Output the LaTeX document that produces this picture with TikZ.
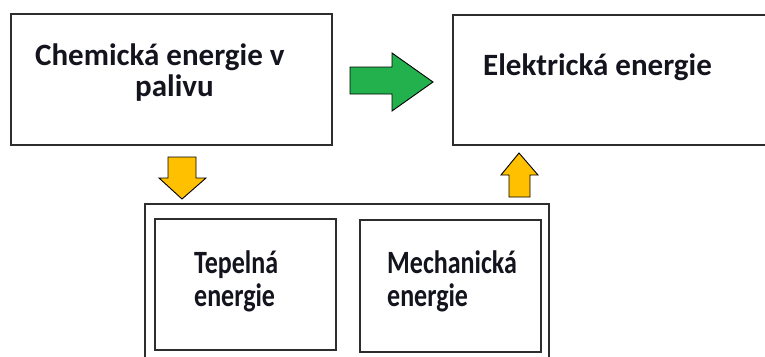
\documentclass[tikz,border=0pt]{standalone}
\usepackage{fontspec}
\setmainfont{Carlito}
\definecolor{boxline}{RGB}{45,45,45}
\definecolor{textcol}{RGB}{20,20,30}
\definecolor{arrgreen}{RGB}{34,177,76}
\definecolor{arryellow}{RGB}{255,192,0}
\tikzset{
  frame/.style={draw=boxline, line width=2pt, fill=none},
  lbl/.style={anchor=base west, inner sep=0pt, font=\bfseries\fontsize{31}{31}\selectfont, text=textcol},
  lblsmall/.style={anchor=base west, inner sep=0pt, font=\bfseries\fontsize{26}{26}\selectfont, text=textcol},
  blockarrow/.style={draw=black, line width=0.9pt, line join=miter}
}
\newcommand{\tallbox}[1]{\scalebox{1}[1.25]{#1}}
\begin{document}
\begin{tikzpicture}[x=1pt,y=-1pt]
\useasboundingbox (0,0) rectangle (765,356);
\fill[white] (0,0) rectangle (765,356);
% top left box
\node[frame, anchor=north west, minimum width=321pt, minimum height=131pt, inner sep=0pt] (chem) at (10,13) {};
\node[lbl] (chemt1) at (35,65) {Chemická energie v};
\node[lbl] (chemt2) at (135,96) {palivu};
% top right box (open at right edge)
\draw[frame] (780,15) -- (453,15) coordinate (elTL) -- (453,145) coordinate (elBL) -- (780,145);
\node[lbl] (elt) at (483,75) {Elektrická energie};
% green arrow
\filldraw[blockarrow, fill=arrgreen] (350,67) -- (392,67) -- (392,53) -- (433,82) -- (392,111) -- (392,94) -- (350,94) -- cycle;
% yellow down arrow
\filldraw[blockarrow, fill=arryellow] (168,157) -- (196,157) -- (196,178) -- (206,178) -- (182,199) -- (159,178) -- (168,178) -- cycle;
% yellow up arrow
\filldraw[blockarrow, fill=arryellow] (509,197) -- (530,197) -- (530,175) -- (538,175) -- (519,153) -- (501,175) -- (509,175) -- cycle;
% outer bottom box (open at bottom edge)
\draw[frame] (145,370) -- (145,204) -- (549,204) -- (549,370);
% inner boxes
\node[frame, anchor=north west, minimum width=181pt, minimum height=131pt, inner sep=0pt] (tep) at (154,218) {};
\node[frame, anchor=north west, minimum width=181pt, minimum height=132pt, inner sep=0pt] (mech) at (359,219) {};
\node[lblsmall] (tept1) at (194,273) {\tallbox{Tepelná}};
\node[lblsmall] (tept2) at (194,306) {\tallbox{energie}};
\node[lblsmall] (mecht1) at (387,273) {\tallbox{Mechanická}};
\node[lblsmall] (mecht2) at (387,306) {\tallbox{energie}};
\end{tikzpicture}
\end{document}
